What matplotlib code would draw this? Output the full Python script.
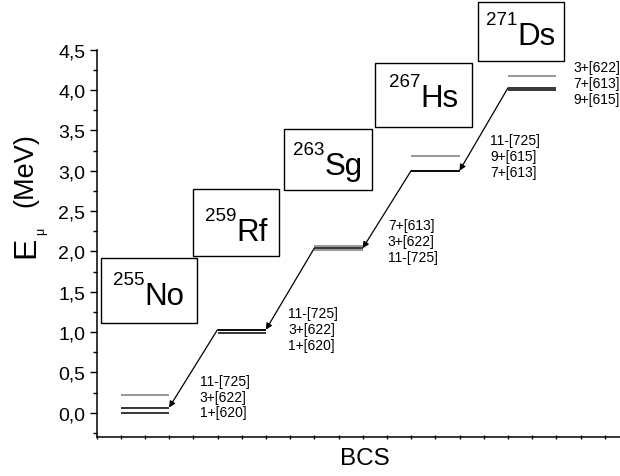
import matplotlib
matplotlib.use("Agg")
import matplotlib.pyplot as plt
from matplotlib.ticker import MultipleLocator, FuncFormatter, NullFormatter
from matplotlib.transforms import offset_copy
from matplotlib.patches import Rectangle

plt.rcParams['font.family'] = ['Liberation Sans', 'DejaVu Sans']

# ---------------- data ----------------
masses = [255, 259, 263, 267, 271]
symbols = ['No', 'Rf', 'Sg', 'Hs', 'Ds']
level_labels = [
    ['11-[725]', '3+[622]', '1+[620]'],
    ['11-[725]', '3+[622]', '1+[620]'],
    ['7+[613]', '3+[622]', '11-[725]'],
    ['11-[725]', '9+[615]', '7+[613]'],
    ['3+[622]', '7+[613]', '9+[615]'],
]
level_energies = [
    [0.22, 0.065, 0.0],
    [1.03, 1.025, 0.985],
    [2.065, 2.04, 2.015],
    [3.185, 3.0, 3.0],
    [4.18, 4.025, 4.0],
]
level_grey = [
    [True, False, False],
    [False, False, False],
    [True, False, True],
    [True, False, False],
    [True, False, False],
]
path_index = [1, 0, 1, 1, 1]
y_ticks = [0.0, 0.5, 1.0, 1.5, 2.0, 2.5, 3.0, 3.5, 4.0, 4.5]

# ---------------- layout ----------------
level_len = 2.0
level_step = 4.0
label_dx = [1.27, 0.91, 1.04, 1.26, 0.69]
label_ymid = [0.20, 1.04, 2.13, 3.185, 4.09]
label_dy = 0.195
box_x0 = [0.19, 3.99, 7.75, 11.51, 15.77]
box_x1 = [4.15, 7.54, 11.39, 15.52, 19.32]
box_y0 = [1.114, 1.943, 2.760, 3.540, 4.356]
box_y1 = [1.918, 2.772, 3.515, 4.340, 5.087]
text_base = [1.351, 2.144, 2.962, 3.807, 4.572]

W, H = 620, 477
fig = plt.figure(figsize=(W / 100, H / 100), dpi=100)
ax = fig.add_axes([96.5 / W, 39 / H, (W - 96.5) / W, (438 - 50.7) / H])
ax.set_xlim(0, (W - 96.5) / 24.2)
ax.set_ylim(-0.3, 4.5)

for s in ['top', 'right']:
    ax.spines[s].set_visible(False)
for s in ['left', 'bottom']:
    ax.spines[s].set_linewidth(1.1)

ax.set_yticks(y_ticks)
ax.yaxis.set_major_formatter(FuncFormatter(lambda v, p: f"{v:.1f}".replace('.', ',')))
ax.yaxis.set_minor_locator(MultipleLocator(0.25))
ax.tick_params(axis='y', which='major', direction='out', length=5, width=1, labelsize=14, pad=3)
ax.tick_params(axis='y', which='minor', direction='out', length=3, width=1)
ax.xaxis.set_major_locator(MultipleLocator(1))
ax.xaxis.set_major_formatter(NullFormatter())
ax.tick_params(axis='x', which='major', direction='inout', length=3, width=1)

grey = '#7a7a7a'
starts = []
for i in range(len(symbols)):
    x0 = 1 + level_step * i
    x1 = x0 + level_len
    starts.append((x0, x1))
    for e, g in zip(level_energies[i], level_grey[i]):
        ax.plot([x0, x1], [e, e], color=grey if g else 'black', lw=1.1,
                solid_capstyle='butt', zorder=2)
    for k, lab in enumerate(level_labels[i]):
        ax.text(x1 + label_dx[i], label_ymid[i] + (1 - k) * label_dy, lab,
                fontsize=10, ha='left', va='center')

# decay arrows
for i in range(1, len(symbols)):
    ux0, _ = starts[i]
    _, lx1 = starts[i - 1]
    eu = level_energies[i][path_index[i]]
    el = level_energies[i - 1][path_index[i - 1]]
    ax.annotate('', xy=(lx1, el), xytext=(ux0, eu),
                arrowprops=dict(arrowstyle='-|>', color='black', lw=0.9,
                                mutation_scale=9, shrinkA=0, shrinkB=0))

# boxes with nuclide names
mains, sups, centers = [], [], []
for i in range(len(symbols)):
    r = Rectangle((box_x0[i], box_y0[i]), box_x1[i] - box_x0[i], box_y1[i] - box_y0[i],
                  facecolor='white', edgecolor='black', lw=1.0, clip_on=False, zorder=3)
    ax.add_patch(r)
    cx = (box_x0[i] + box_x1[i]) / 2
    tm = ax.text(cx, text_base[i], symbols[i], fontsize=22.5, ha='left', va='baseline',
                 clip_on=False, zorder=4)
    ts = ax.text(cx, text_base[i], str(masses[i]), fontsize=13.5, ha='right', va='baseline',
                 clip_on=False, zorder=4)
    mains.append(tm)
    sups.append(ts)
    centers.append(cx)

fig.canvas.draw()
for tm, ts, cx, yb in zip(mains, sups, centers, text_base):
    wm = tm.get_window_extent().width
    wsup = ts.get_window_extent().width
    dx = -(wm + wsup) / 2 + wsup
    tm.set_transform(offset_copy(ax.transData, fig, x=dx, y=0, units='dots'))
    ts.set_transform(offset_copy(ax.transData, fig, x=dx, y=19.5, units='dots'))

# axis labels
ax.set_xlabel('BCS', fontsize=17.5)
ax.xaxis.set_label_coords((365 - 96.5) / (W - 96.5), -(459 - 438) / (438 - 50.7), transform=ax.transAxes)
ax.xaxis.label.set_va('center')
fig.text(26 / W, 1 - 247 / H, 'E', fontsize=23, rotation=90, ha='center', va='center')
fig.text(41 / W, 1 - 231 / H, '\u03bc', fontsize=9, rotation=90, ha='center', va='center')
fig.text(25 / W, 1 - 170 / H, '(MeV)', fontsize=19.5, rotation=90, ha='center', va='center')

fig.savefig('out.png', dpi=100)
